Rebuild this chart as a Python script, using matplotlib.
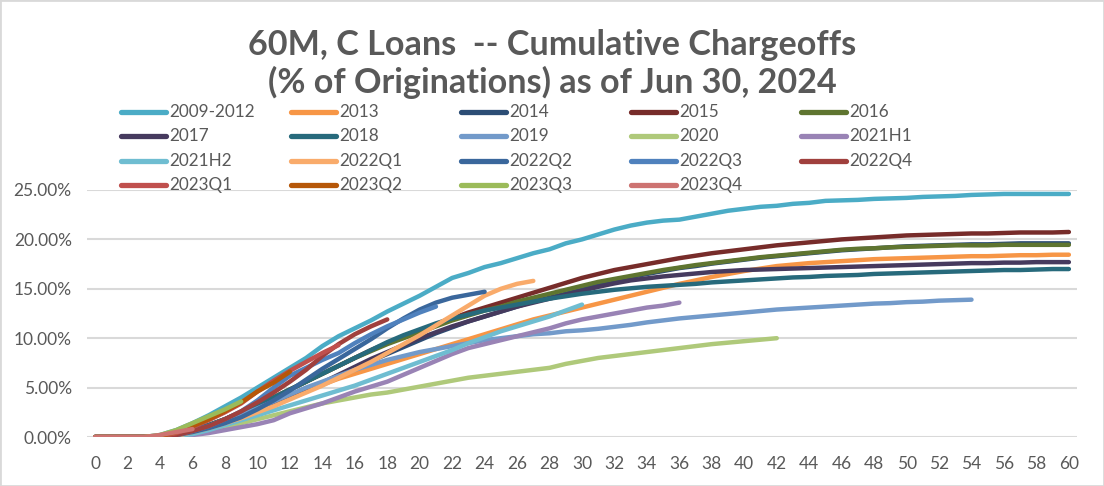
import matplotlib
matplotlib.use('Agg')
import matplotlib.pyplot as plt
from matplotlib.lines import Line2D
from matplotlib.patches import Rectangle

plt.rcParams['font.family'] = ['Lato', 'DejaVu Sans']

# months on book
months = list(range(0, 61))

names = ['2009-2012', '2013', '2014', '2015', '2016',
         '2017', '2018', '2019', '2020', '2021H1',
         '2021H2', '2022Q1', '2022Q2', '2022Q3', '2022Q4',
         '2023Q1', '2023Q2', '2023Q3', '2023Q4']

colors = ['#4BACC6', '#F79646', '#2C4D75', '#772C2A', '#5F7530',
          '#463A5E', '#276A7C', '#729ACA', '#AFC97A', '#9983B5',
          '#6FBDD1', '#F9AB6B', '#3A679C', '#4F81BD', '#A0403D',
          '#C0504D', '#B65708', '#9BBB59', '#CD7371']

# cumulative chargeoffs, % of originations
v2009_2012 = [0, 0, 0, 0, 0.2, 0.7, 1.4, 2.2, 3.1, 4.0, 5.0, 6.0, 7.0, 8.0, 9.2, 10.2, 11.0, 11.8, 12.7, 13.5,
              14.3, 15.2, 16.1, 16.6, 17.2, 17.6, 18.1, 18.6, 19.0, 19.6, 20.0, 20.5, 21.0, 21.4, 21.7, 21.9,
              22.0, 22.3, 22.6, 22.9, 23.1, 23.3, 23.4, 23.6, 23.7, 23.9, 23.95, 24.0, 24.1, 24.15, 24.2,
              24.3, 24.35, 24.4, 24.5, 24.55, 24.6, 24.6, 24.6, 24.6, 24.6]
v2013 = [0, 0, 0, 0, 0.05, 0.2, 0.5, 1.0, 1.5, 2.1, 2.7, 3.4, 4.1, 4.7, 5.3, 5.9, 6.4, 6.9, 7.4, 7.9,
         8.4, 8.9, 9.4, 9.9, 10.4, 10.9, 11.4, 11.9, 12.3, 12.7, 13.1, 13.5, 13.9, 14.3, 14.7, 15.1,
         15.5, 15.85, 16.2, 16.5, 16.8, 17.05, 17.3, 17.45, 17.6, 17.7, 17.8, 17.9, 18.0, 18.05, 18.1,
         18.15, 18.2, 18.25, 18.3, 18.3, 18.35, 18.4, 18.4, 18.45, 18.45]
v2014 = [0, 0, 0, 0, 0.05, 0.2, 0.5, 0.9, 1.4, 2.0, 2.6, 3.3, 4.0, 4.7, 5.4, 6.1, 6.9, 7.7, 8.4, 9.1,
         9.8, 10.5, 11.1, 11.7, 12.2, 12.7, 13.2, 13.7, 14.1, 14.5, 14.9, 15.4, 15.8, 16.2, 16.5, 16.8,
         17.1, 17.3, 17.55, 17.75, 17.95, 18.15, 18.3, 18.45, 18.6, 18.75, 18.9, 19.0, 19.1, 19.2, 19.3,
         19.35, 19.4, 19.45, 19.5, 19.5, 19.55, 19.6, 19.6, 19.6, 19.6]
v2015 = [0, 0, 0, 0, 0.05, 0.3, 0.7, 1.2, 1.8, 2.5, 3.2, 4.0, 4.8, 5.6, 6.4, 7.2, 8.0, 8.8, 9.5, 10.2,
         10.8, 11.4, 12.0, 12.6, 13.1, 13.6, 14.1, 14.6, 15.1, 15.6, 16.1, 16.5, 16.9, 17.2, 17.5, 17.8,
         18.1, 18.35, 18.6, 18.8, 19.0, 19.2, 19.4, 19.55, 19.7, 19.85, 20.0, 20.1, 20.2, 20.3, 20.4,
         20.45, 20.5, 20.55, 20.6, 20.6, 20.65, 20.7, 20.7, 20.7, 20.75]
v2016 = [0, 0, 0, 0, 0.05, 0.3, 0.7, 1.2, 1.8, 2.5, 3.2, 4.0, 4.8, 5.6, 6.4, 7.2, 8.0, 8.7, 9.4, 10.0,
         10.6, 11.2, 11.8, 12.3, 12.8, 13.2, 13.7, 14.1, 14.5, 14.9, 15.3, 15.7, 16.0, 16.3, 16.6, 16.9,
         17.15, 17.4, 17.6, 17.8, 18.0, 18.2, 18.35, 18.5, 18.65, 18.8, 18.95, 19.05, 19.1, 19.2, 19.25,
         19.3, 19.35, 19.4, 19.4, 19.4, 19.45, 19.45, 19.45, 19.45, 19.45]
v2017 = [0, 0, 0, 0, 0.05, 0.2, 0.5, 0.9, 1.4, 2.0, 2.6, 3.3, 4.0, 4.7, 5.5, 6.3, 7.1, 7.9, 8.6, 9.3,
         10.0, 10.6, 11.2, 11.7, 12.2, 12.7, 13.2, 13.6, 14.0, 14.4, 14.8, 15.2, 15.55, 15.85, 16.05, 16.25,
         16.4, 16.55, 16.7, 16.8, 16.9, 16.95, 17.0, 17.05, 17.1, 17.15, 17.2, 17.25, 17.3, 17.35, 17.4,
         17.45, 17.5, 17.55, 17.6, 17.6, 17.65, 17.65, 17.7, 17.7, 17.7]
v2018 = [0, 0, 0, 0, 0.05, 0.3, 0.7, 1.2, 1.8, 2.5, 3.2, 4.0, 4.8, 5.6, 6.4, 7.2, 8.0, 8.8, 9.6, 10.3,
         10.9, 11.5, 12.0, 12.4, 12.8, 13.1, 13.4, 13.7, 14.0, 14.25, 14.5, 14.7, 14.9, 15.05, 15.2, 15.3,
         15.4, 15.5, 15.65, 15.75, 15.85, 15.95, 16.05, 16.15, 16.2, 16.3, 16.35, 16.4, 16.5, 16.55, 16.6,
         16.65, 16.7, 16.75, 16.8, 16.85, 16.9, 16.9, 16.95, 17.0, 17.0]
v2019 = [0, 0, 0, 0, 0.05, 0.2, 0.5, 1.0, 1.6, 2.2, 2.9, 3.6, 4.3, 5.0, 5.6, 6.2, 6.8, 7.3, 7.8, 8.2,
         8.6, 8.9, 9.2, 9.5, 9.8, 10.0, 10.2, 10.4, 10.5, 10.7, 10.8, 10.95, 11.15, 11.35, 11.6, 11.8,
         12.0, 12.15, 12.3, 12.45, 12.6, 12.75, 12.9, 13.0, 13.1, 13.2, 13.3, 13.4, 13.5, 13.55, 13.65,
         13.7, 13.8, 13.85, 13.9]
v2020 = [0, 0, 0, 0, 0, 0.1, 0.3, 0.6, 1.0, 1.4, 1.8, 2.2, 2.6, 3.0, 3.4, 3.7, 4.0, 4.3, 4.5, 4.8,
         5.1, 5.4, 5.7, 6.0, 6.2, 6.4, 6.6, 6.8, 7.0, 7.4, 7.7, 8.0, 8.2, 8.4, 8.6, 8.8,
         9.0, 9.2, 9.4, 9.55, 9.7, 9.85, 10.0]
v2021h1 = [0, 0, 0, 0, 0, 0.05, 0.2, 0.4, 0.7, 1.0, 1.3, 1.7, 2.4, 2.9, 3.4, 4.0, 4.6, 5.1, 5.6, 6.3,
           7.0, 7.7, 8.4, 9.0, 9.4, 9.8, 10.2, 10.6, 11.0, 11.5, 11.9, 12.2, 12.5, 12.8, 13.1, 13.3, 13.6]
v2021h2 = [0, 0, 0, 0, 0, 0.1, 0.3, 0.7, 1.2, 1.7, 2.2, 2.7, 3.2, 3.7, 4.2, 4.7, 5.2, 5.8, 6.4, 7.0,
           7.6, 8.2, 8.8, 9.5, 10.1, 10.7, 11.2, 11.7, 12.2, 12.8, 13.4]
v2022q1 = [0, 0, 0, 0, 0, 0.1, 0.5, 0.9, 1.4, 1.9, 2.5, 3.1, 3.8, 4.5, 5.2, 6.0, 6.8, 7.6, 8.5, 9.4,
           10.3, 11.3, 12.3, 13.3, 14.3, 15.0, 15.5, 15.8]
v2022q2 = [0, 0, 0, 0, 0, 0.2, 0.5, 0.9, 1.4, 2.0, 2.8, 3.7, 4.7, 5.8, 6.9, 7.9, 8.9, 9.9, 11.0, 12.0,
           12.9, 13.6, 14.1, 14.4, 14.7]
v2022q3 = [0, 0, 0, 0, 0, 0.2, 0.6, 1.1, 1.8, 2.6, 3.7, 5.0, 6.2, 7.0, 7.8, 8.5, 9.5, 10.4, 11.2, 11.9,
           12.6, 13.2]
v2022q4 = [0, 0, 0, 0, 0, 0.2, 0.6, 1.1, 1.8, 2.6, 3.5, 4.5, 5.6, 6.8, 8.2, 9.4, 10.4, 11.2, 11.9]
v2023q1 = [0, 0, 0, 0, 0.05, 0.4, 1.0, 1.7, 2.5, 3.4, 4.6, 5.7, 6.7, 7.6, 8.5, 9.3]
v2023q2 = [0, 0, 0, 0, 0.1, 0.5, 1.1, 1.8, 2.6, 3.5, 4.6, 5.5, 6.6]
v2023q3 = [0, 0, 0, 0, 0.2, 0.7, 1.4, 2.1, 2.8, 3.6]
v2023q4 = [0, 0, 0, 0, 0.2, 0.5, 0.8]

series = [v2009_2012, v2013, v2014, v2015, v2016, v2017, v2018, v2019, v2020, v2021h1,
          v2021h2, v2022q1, v2022q2, v2022q3, v2022q4, v2023q1, v2023q2, v2023q3, v2023q4]

W, H = 1104, 486
fig = plt.figure(figsize=(W / 100, H / 100), dpi=100)
ax = fig.add_axes([87 / W, 1 - 437 / H, 990 / W, 247 / H])

for name, col, vals in zip(names, colors, series):
    ax.plot(months[:len(vals)], vals, color=col, lw=3.2,
            solid_capstyle='round', solid_joinstyle='round', label=name)

ax.set_xlim(-0.5, 60.5)
ax.set_ylim(0, 25)
ax.set_xticks(range(0, 61, 2))
ax.set_yticks(range(0, 26, 5))
ax.set_yticklabels(['%.2f%%' % t for t in range(0, 26, 5)])
ax.grid(axis='y', color='#D9D9D9', lw=1.5)
ax.set_axisbelow(True)
for s in ax.spines.values():
    s.set_visible(False)
ax.tick_params(length=0, labelsize=12.5, colors='#595959')
ax.tick_params(axis='x', pad=14)
ax.tick_params(axis='y', pad=11)

fig.text(0.5, 1 - 45 / H, '60M, C Loans  -- Cumulative Chargeoffs', ha='center', va='center',
         fontsize=24.6, fontweight='bold', color='#595959')
fig.text(0.5, 1 - 82 / H, '(% of Originations) as of Jun 30, 2024', ha='center', va='center',
         fontsize=24.6, fontweight='bold', color='#595959')

# legend laid out like Excel's, row by row
row_y = [112, 136, 161, 185]
for i, (name, col) in enumerate(zip(names, colors)):
    r, c = divmod(i, 5)
    x0 = 121 + 170 * c
    y = 1 - row_y[r] / H
    fig.add_artist(Line2D([x0 / W, (x0 + 45) / W], [y, y], color=col, lw=3.8,
                          solid_capstyle='round', transform=fig.transFigure))
    fig.text((x0 + 48) / W, y, name, ha='left', va='center', fontsize=12.3, color='#595959')

fig.add_artist(Rectangle((0, 0), 1, 1, transform=fig.transFigure, fill=False,
                         edgecolor='#D9D9D9', lw=2))

plt.savefig('out.png', dpi=100)
